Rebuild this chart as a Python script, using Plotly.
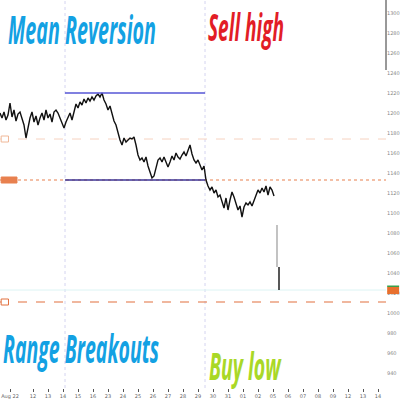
import plotly.graph_objects as go

# ---------------- data ----------------
prices = [1200, 1195, 1201, 1193, 1198, 1210, 1196, 1203, 1192, 1199, 1201, 1195, 1188, 1175, 1187,
          1195, 1201, 1191, 1197, 1188, 1195, 1200, 1193, 1203, 1195, 1199, 1191, 1201, 1203, 1200,
          1195, 1190, 1185, 1191, 1195, 1200, 1193, 1201, 1209, 1205, 1211, 1208, 1214, 1210, 1215,
          1212, 1216, 1213, 1217, 1219, 1216, 1220, 1213, 1209, 1203, 1207, 1200, 1192, 1188, 1180,
          1173, 1168, 1175, 1171, 1173, 1175, 1174, 1176, 1168, 1158, 1153, 1155, 1151, 1156, 1147,
          1141, 1135, 1137, 1145, 1153, 1155, 1151, 1156, 1150, 1146, 1151, 1157, 1153, 1160, 1156,
          1154, 1158, 1161, 1157, 1163, 1168, 1159, 1153, 1150, 1153, 1148, 1143, 1147, 1133, 1127,
          1123, 1126, 1120, 1123, 1116, 1118, 1111, 1105, 1115, 1103, 1113, 1121, 1116, 1109, 1103,
          1107, 1096, 1106, 1110, 1108, 1111, 1107, 1113, 1117, 1123, 1120, 1125, 1121, 1127, 1118,
          1126, 1123, 1117]
bar_index = list(range(len(prices)))

spike_grey_x = [138.5, 138.5]
spike_grey_y = [1088, 1046]
spike_black_x = [139.5, 139.5]
spike_black_y = [1046, 1023]

box_start, box_end = 32.5, 102.5
range_high = 1220
range_low = 1133
level_upper = 1174
level_lower = 1011
last_price = 1023

y_ticks = [1300, 1280, 1260, 1240, 1220, 1200, 1180, 1160, 1140, 1120, 1100,
           1080, 1060, 1040, 1020, 1000, 980, 960, 940]
x_tick_vals = [5, 16.5, 24, 31.5, 39, 46.5, 54, 61.5, 69, 76.5, 84, 91.5, 99, 106.5,
               114, 121.5, 129, 136.5, 144, 151.5, 159, 166.5, 174, 181.5, 189]
x_tick_text = ["Aug 22", "12", "13", "14", "15", "16", "23", "24", "25", "26", "27", "28",
               "29", "30", "31", "01", "02", "05", "06", "07", "08", "09", "12", "13", "14"]

labels = ["Mean Reversion", "Sell high", "Range Breakouts", "Buy low"]
label_colors = ["#13a1e3", "#e21d26", "#13a1e3", "#a9d827"]

X_MAX = 193
Y_MIN, Y_MAX = 925, 1313

fig = go.Figure()

# vertical dotted box sides (full height)
for xv in [box_start, box_end]:
    fig.add_shape(type="line", x0=xv, x1=xv, y0=0, y1=1, xref="x", yref="paper",
                  line=dict(color="#d4d4f0", width=1, dash="dot"), layer="below")

# horizontal levels
fig.add_shape(type="line", x0=0, x1=1, xref="paper", y0=last_price, y1=last_price, yref="y",
              line=dict(color="#dcf4f4", width=1), layer="below")
fig.add_shape(type="line", x0=0, x1=1, xref="paper", y0=level_upper, y1=level_upper, yref="y",
              line=dict(color="#f6d2c0", width=1, dash="dash"), layer="below")
fig.add_shape(type="line", x0=0, x1=1, xref="paper", y0=level_lower, y1=level_lower, yref="y",
              line=dict(color="#e2713f", width=1.2, dash="dash"), layer="below")
fig.add_shape(type="line", x0=0, x1=1, xref="paper", y0=range_low, y1=range_low, yref="y",
              line=dict(color="#e8804f", width=1.2, dash="dot"), layer="below")
# range box top/bottom
fig.add_shape(type="line", x0=box_start, x1=box_end, y0=range_high, y1=range_high,
              line=dict(color="#5656d6", width=1.5))
fig.add_shape(type="line", x0=box_start, x1=box_end, y0=range_low, y1=range_low,
              line=dict(color="#3b3596", width=1.5))

# price line
fig.add_trace(go.Scatter(x=bar_index, y=prices, mode="lines",
                         line=dict(color="#111111", width=1.4), hoverinfo="skip"))
fig.add_trace(go.Scatter(x=spike_grey_x, y=spike_grey_y, mode="lines",
                         line=dict(color="#9a9a9a", width=1.2), hoverinfo="skip"))
fig.add_trace(go.Scatter(x=spike_black_x, y=spike_black_y, mode="lines",
                         line=dict(color="#111111", width=1.4), hoverinfo="skip"))

# left level tags
fig.add_shape(type="rect", x0=0.003, x1=0.044, xref="paper", y0=range_low - 3, y1=range_low + 3,
              fillcolor="#e8804f", line=dict(color="#e8804f", width=1))
fig.add_shape(type="rect", x0=0.003, x1=0.022, xref="paper", y0=level_upper - 3, y1=level_upper + 3,
              fillcolor="white", line=dict(color="#f0b898", width=1))
fig.add_shape(type="rect", x0=0.003, x1=0.022, xref="paper", y0=level_lower - 3, y1=level_lower + 3,
              fillcolor="white", line=dict(color="#e2713f", width=1))
# right current price tag
fig.add_shape(type="rect", x0=1.003, x1=1.034, xref="paper", y0=last_price - 4, y1=last_price + 3,
              fillcolor="#e8702e", line=dict(width=0))
fig.add_shape(type="rect", x0=1.003, x1=1.034, xref="paper", y0=last_price + 3, y1=last_price + 4.5,
              fillcolor="#3aa04a", line=dict(width=0))
# top right bracket line
fig.add_shape(type="line", x0=1, x1=1, xref="paper", y0=1, y1=1 - 70 / 388, yref="paper",
              line=dict(color="#333333", width=1))

# big labels: (left px, cap middle px, font size)
pos = [(6, 28.5, 40), (206, 26.5, 38), (1, 347.5, 40), (207, 365, 37)]
for txt, col, (lx, my, fs) in zip(labels, label_colors, pos):
    fig.add_annotation(text=txt, x=lx / 386, y=1 - my / 388, xref="paper", yref="paper",
                       xanchor="left", yanchor="middle", showarrow=False,
                       font=dict(family="Open Sans", size=fs, color=col, weight="bold", style="italic"))

fig.update_layout(
    width=400, height=400,
    margin=dict(l=0, r=14, t=0, b=12),
    paper_bgcolor="white", plot_bgcolor="white",
    showlegend=False,
    xaxis=dict(range=[0, X_MAX], showgrid=False, zeroline=False, showline=False,
               tickmode="array", tickvals=x_tick_vals, ticktext=x_tick_text,
               ticks="outside", ticklen=3, tickcolor="#555",
               tickfont=dict(size=5, color="#666", family="DejaVu Sans")),
    yaxis=dict(range=[Y_MIN, Y_MAX], side="right", showgrid=False, zeroline=False,
               showline=False, tickmode="array", tickvals=y_ticks,
               ticks="", tickfont=dict(size=5, color="#888", family="DejaVu Sans")),
)

js = """
document.body.style.margin = '0';
document.body.style.padding = '0';
var gd = document.getElementById('{plot_id}');
var targets = {"Mean Reversion": 148, "Sell high": 76, "Range Breakouts": 156, "Buy low": 73};
function squeeze(){
  var ts = gd.querySelectorAll('g.annotation text.annotation-text');
  ts.forEach(function(t){
    var w = targets[t.textContent];
    if (!w) return;
    t.removeAttribute('transform');
    var b = t.getBBox();
    if (!b.width) return;
    var s = w / b.width;
    var L = b.x;
    t.setAttribute('transform', 'translate(' + L + ',0) scale(' + s + ',1) translate(' + (-L) + ',0)');
  });
}
squeeze();
if (document.fonts && document.fonts.ready) { document.fonts.ready.then(squeeze); }
if (gd.on) { gd.on('plotly_afterplot', squeeze); }
"""

fig.write_html("out.html", post_script=js, config={"displayModeBar": False})
